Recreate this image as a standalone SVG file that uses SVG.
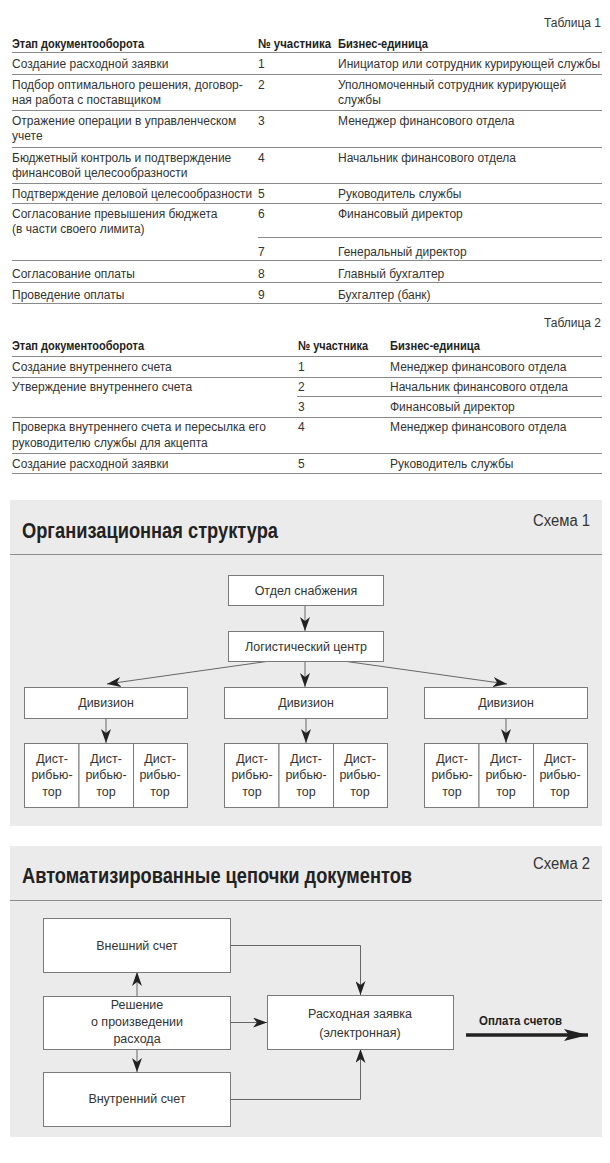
<svg xmlns="http://www.w3.org/2000/svg" width="610" height="1163" viewBox="0 0 610 1163">
<defs>
<style>
text{font-family:"Liberation Sans",Arial,sans-serif;font-size:12px;fill:#333}
.b{font-weight:bold;fill:#222;font-size:13px}
.r{text-anchor:end}
.c{text-anchor:middle}
.s{font-size:12.5px}
.ttl{font-size:22px;font-weight:bold;fill:#222}
.sch{font-size:16px;text-anchor:end;fill:#333}
.tl{stroke:#8a8a8a;stroke-width:1}
.panel{fill:#ebebeb}
.hl{stroke:#8c8c8c;stroke-width:1}
.box{fill:#fff;stroke:#7a7a7a;stroke-width:1}
.con{stroke:#666;stroke-width:1;fill:none}
</style>
<marker id="ah" markerUnits="userSpaceOnUse" markerWidth="14" markerHeight="10" refX="14" refY="5" orient="auto">
<path d="M0,0 L14,5 L0,10 L4,5 z" fill="#222"/>
</marker>
<marker id="big" markerUnits="userSpaceOnUse" markerWidth="24" markerHeight="12" refX="24" refY="6" orient="auto">
<path d="M0,0 L24,6 L0,12 L5,6 z" fill="#222"/>
</marker>
</defs>

<g id="table1">
<text class="r" x="601" y="27">Таблица 1</text>
<text class="b" x="12" y="48" textLength="132" lengthAdjust="spacingAndGlyphs">Этап документооборота</text>
<text class="b" x="258" y="48" textLength="73" lengthAdjust="spacingAndGlyphs">№ участника</text>
<text class="b" x="338" y="48" textLength="90" lengthAdjust="spacingAndGlyphs">Бизнес-единица</text>
<line class="tl" x1="12" y1="52.5" x2="602" y2="52.5"/>
<text x="12" y="68">Создание расходной заявки</text>
<text x="258" y="68">1</text>
<text x="338" y="68">Инициатор или сотрудник курирующей службы</text>
<line class="tl" x1="12" y1="74.5" x2="602" y2="74.5"/>
<text x="12" y="89">Подбор оптимального решения, договор-</text>
<text x="12" y="104">ная работа с поставщиком</text>
<text x="258" y="89">2</text>
<text x="338" y="89">Уполномоченный сотрудник курирующей</text>
<text x="338" y="104">службы</text>
<line class="tl" x1="12" y1="110.5" x2="602" y2="110.5"/>
<text x="12" y="125">Отражение операции в управленческом</text>
<text x="12" y="140">учете</text>
<text x="258" y="125">3</text>
<text x="338" y="125">Менеджер финансового отдела</text>
<line class="tl" x1="12" y1="147.5" x2="602" y2="147.5"/>
<text x="12" y="162">Бюджетный контроль и подтверждение</text>
<text x="12" y="177">финансовой целесообразности</text>
<text x="258" y="162">4</text>
<text x="338" y="162">Начальник финансового отдела</text>
<line class="tl" x1="12" y1="183.5" x2="602" y2="183.5"/>
<text x="12" y="198" textLength="240" lengthAdjust="spacingAndGlyphs">Подтверждение деловой целесообразности</text>
<text x="258" y="198">5</text>
<text x="338" y="198">Руководитель службы</text>
<line class="tl" x1="12" y1="203.5" x2="602" y2="203.5"/>
<text x="12" y="218">Согласование превышения бюджета</text>
<text x="12" y="233">(в части своего лимита)</text>
<text x="258" y="218">6</text>
<text x="338" y="218">Финансовый директор</text>
<line class="tl" x1="258" y1="237.5" x2="602" y2="237.5"/>
<text x="258" y="256">7</text>
<text x="338" y="256">Генеральный директор</text>
<line class="tl" x1="12" y1="260.5" x2="602" y2="260.5"/>
<text x="12" y="278">Согласование оплаты</text>
<text x="258" y="278">8</text>
<text x="338" y="278">Главный бухгалтер</text>
<line class="tl" x1="12" y1="282.5" x2="602" y2="282.5"/>
<text x="12" y="299">Проведение оплаты</text>
<text x="258" y="299">9</text>
<text x="338" y="299">Бухгалтер (банк)</text>
<line class="tl" x1="12" y1="303.5" x2="602" y2="303.5"/>
</g>

<g id="table2">
<text class="r" x="601" y="327">Таблица 2</text>
<text class="b" x="12" y="350" textLength="132" lengthAdjust="spacingAndGlyphs">Этап документооборота</text>
<text class="b" x="298" y="350" textLength="70" lengthAdjust="spacingAndGlyphs">№ участника</text>
<text class="b" x="390" y="350" textLength="90" lengthAdjust="spacingAndGlyphs">Бизнес-единица</text>
<line class="tl" x1="12" y1="356.5" x2="602" y2="356.5"/>
<text x="12" y="371">Создание внутреннего счета</text>
<text x="298" y="371">1</text>
<text x="390" y="371">Менеджер финансового отдела</text>
<line class="tl" x1="12" y1="377.5" x2="602" y2="377.5"/>
<text x="12" y="391">Утверждение внутреннего счета</text>
<text x="298" y="391">2</text>
<text x="390" y="391">Начальник финансового отдела</text>
<line class="tl" x1="297" y1="396.5" x2="602" y2="396.5"/>
<text x="298" y="411">3</text>
<text x="390" y="411">Финансовый директор</text>
<line class="tl" x1="12" y1="417.5" x2="602" y2="417.5"/>
<text x="12" y="431">Проверка внутреннего счета и пересылка его</text>
<text x="12" y="447">руководителю службы для акцепта</text>
<text x="298" y="431">4</text>
<text x="390" y="431">Менеджер финансового отдела</text>
<line class="tl" x1="12" y1="453.5" x2="602" y2="453.5"/>
<text x="12" y="468">Создание расходной заявки</text>
<text x="298" y="468">5</text>
<text x="390" y="468">Руководитель службы</text>
<line class="tl" x1="12" y1="473.5" x2="602" y2="473.5"/>
</g>

<g id="schema1-panel">
<rect class="panel" x="10" y="500" width="592" height="326"/>
<line class="hl" x1="10" y1="554.5" x2="602" y2="554.5"/>
<text class="ttl" x="22" y="538" textLength="256" lengthAdjust="spacingAndGlyphs">Организационная структура</text>
<text class="sch" x="590" y="526" textLength="57" lengthAdjust="spacingAndGlyphs">Схема 1</text>
</g>

<g id="connectors1">
<line class="con" x1="305" y1="605" x2="305" y2="631" marker-end="url(#ah)"/>
<line class="con" x1="270" y1="661" x2="107" y2="684" marker-end="url(#ah)"/>
<line class="con" x1="305" y1="661" x2="305" y2="687" marker-end="url(#ah)"/>
<line class="con" x1="343" y1="661" x2="507" y2="684" marker-end="url(#ah)"/>
<line class="con" x1="106" y1="718" x2="106" y2="743" marker-end="url(#ah)"/>
<line class="con" x1="306" y1="718" x2="306" y2="743" marker-end="url(#ah)"/>
<line class="con" x1="506" y1="718" x2="506" y2="743" marker-end="url(#ah)"/>
</g>

<g id="otdel"><rect class="box" x="228.5" y="575.5" width="155" height="30"/><text class="c s" x="306" y="595">Отдел снабжения</text></g>
<g id="logist"><rect class="box" x="228.5" y="631.5" width="155" height="30"/><text class="c s" x="306" y="651">Логистический центр</text></g>

<g id="div1"><rect class="box" x="24.5" y="687.5" width="163" height="31"/><text class="c s" x="106" y="707">Дивизион</text></g>
<g id="div2"><rect class="box" x="224.5" y="687.5" width="163" height="31"/><text class="c s" x="306" y="707">Дивизион</text></g>
<g id="div3"><rect class="box" x="424.5" y="687.5" width="163" height="31"/><text class="c s" x="506" y="707">Дивизион</text></g>

<g id="d1a"><rect class="box" x="24.5" y="743.5" width="54.5" height="64"/><text class="c s" x="52" y="763">Дист-</text><text class="c s" x="52" y="779">рибью-</text><text class="c s" x="52" y="796">тор</text></g>
<g id="d1b"><rect class="box" x="79" y="743.5" width="54.5" height="64"/><text class="c s" x="106" y="763">Дист-</text><text class="c s" x="106" y="779">рибью-</text><text class="c s" x="106" y="796">тор</text></g>
<g id="d1c"><rect class="box" x="133.5" y="743.5" width="54" height="64"/><text class="c s" x="160" y="763">Дист-</text><text class="c s" x="160" y="779">рибью-</text><text class="c s" x="160" y="796">тор</text></g>

<g id="d2a"><rect class="box" x="224.5" y="743.5" width="54.5" height="64"/><text class="c s" x="252" y="763">Дист-</text><text class="c s" x="252" y="779">рибью-</text><text class="c s" x="252" y="796">тор</text></g>
<g id="d2b"><rect class="box" x="279" y="743.5" width="54.5" height="64"/><text class="c s" x="306" y="763">Дист-</text><text class="c s" x="306" y="779">рибью-</text><text class="c s" x="306" y="796">тор</text></g>
<g id="d2c"><rect class="box" x="333.5" y="743.5" width="54" height="64"/><text class="c s" x="360" y="763">Дист-</text><text class="c s" x="360" y="779">рибью-</text><text class="c s" x="360" y="796">тор</text></g>

<g id="d3a"><rect class="box" x="424.5" y="743.5" width="54.5" height="64"/><text class="c s" x="452" y="763">Дист-</text><text class="c s" x="452" y="779">рибью-</text><text class="c s" x="452" y="796">тор</text></g>
<g id="d3b"><rect class="box" x="479" y="743.5" width="54.5" height="64"/><text class="c s" x="506" y="763">Дист-</text><text class="c s" x="506" y="779">рибью-</text><text class="c s" x="506" y="796">тор</text></g>
<g id="d3c"><rect class="box" x="533.5" y="743.5" width="54" height="64"/><text class="c s" x="560" y="763">Дист-</text><text class="c s" x="560" y="779">рибью-</text><text class="c s" x="560" y="796">тор</text></g>

<g id="schema2-panel">
<rect class="panel" x="10" y="846" width="592" height="291"/>
<line class="hl" x1="10" y1="900.5" x2="602" y2="900.5"/>
<text class="ttl" x="22" y="883" textLength="390" lengthAdjust="spacingAndGlyphs">Автоматизированные цепочки документов</text>
<text class="sch" x="590" y="869" textLength="57" lengthAdjust="spacingAndGlyphs">Схема 2</text>
</g>

<g id="connectors2">
<line class="con" x1="137" y1="996" x2="137" y2="972" marker-end="url(#ah)"/>
<line class="con" x1="137" y1="1049" x2="137" y2="1072" marker-end="url(#ah)"/>
<line class="con" x1="230" y1="1022.5" x2="267" y2="1022.5" marker-end="url(#ah)"/>
<polyline class="con" points="230,945.5 360.5,945.5 360.5,995" marker-end="url(#ah)"/>
<polyline class="con" points="230,1099.5 360.5,1099.5 360.5,1049" marker-end="url(#ah)"/>
<line x1="466" y1="1035" x2="588" y2="1035" stroke="#222" stroke-width="3.5" marker-end="url(#big)"/>
<text class="b" x="479" y="1025" textLength="83" lengthAdjust="spacingAndGlyphs">Оплата счетов</text>
</g>

<g id="vneshniy"><rect class="box" x="43.5" y="918.5" width="187" height="54"/><text class="c s" x="137" y="950">Внешний счет</text></g>
<g id="reshenie"><rect class="box" x="43.5" y="996.5" width="187" height="53"/><text class="c s" x="137" y="1009">Решение</text><text class="c s" x="137" y="1026">о произведении</text><text class="c s" x="137" y="1043">расхода</text></g>
<g id="vnutr"><rect class="box" x="43.5" y="1072.5" width="187" height="54"/><text class="c s" x="137" y="1103">Внутренний счет</text></g>
<g id="zayavka"><rect class="box" x="267.5" y="995.5" width="186" height="54"/><text class="c s" x="360" y="1018">Расходная заявка</text><text class="c s" x="360" y="1037">(электронная)</text></g>
</svg>
